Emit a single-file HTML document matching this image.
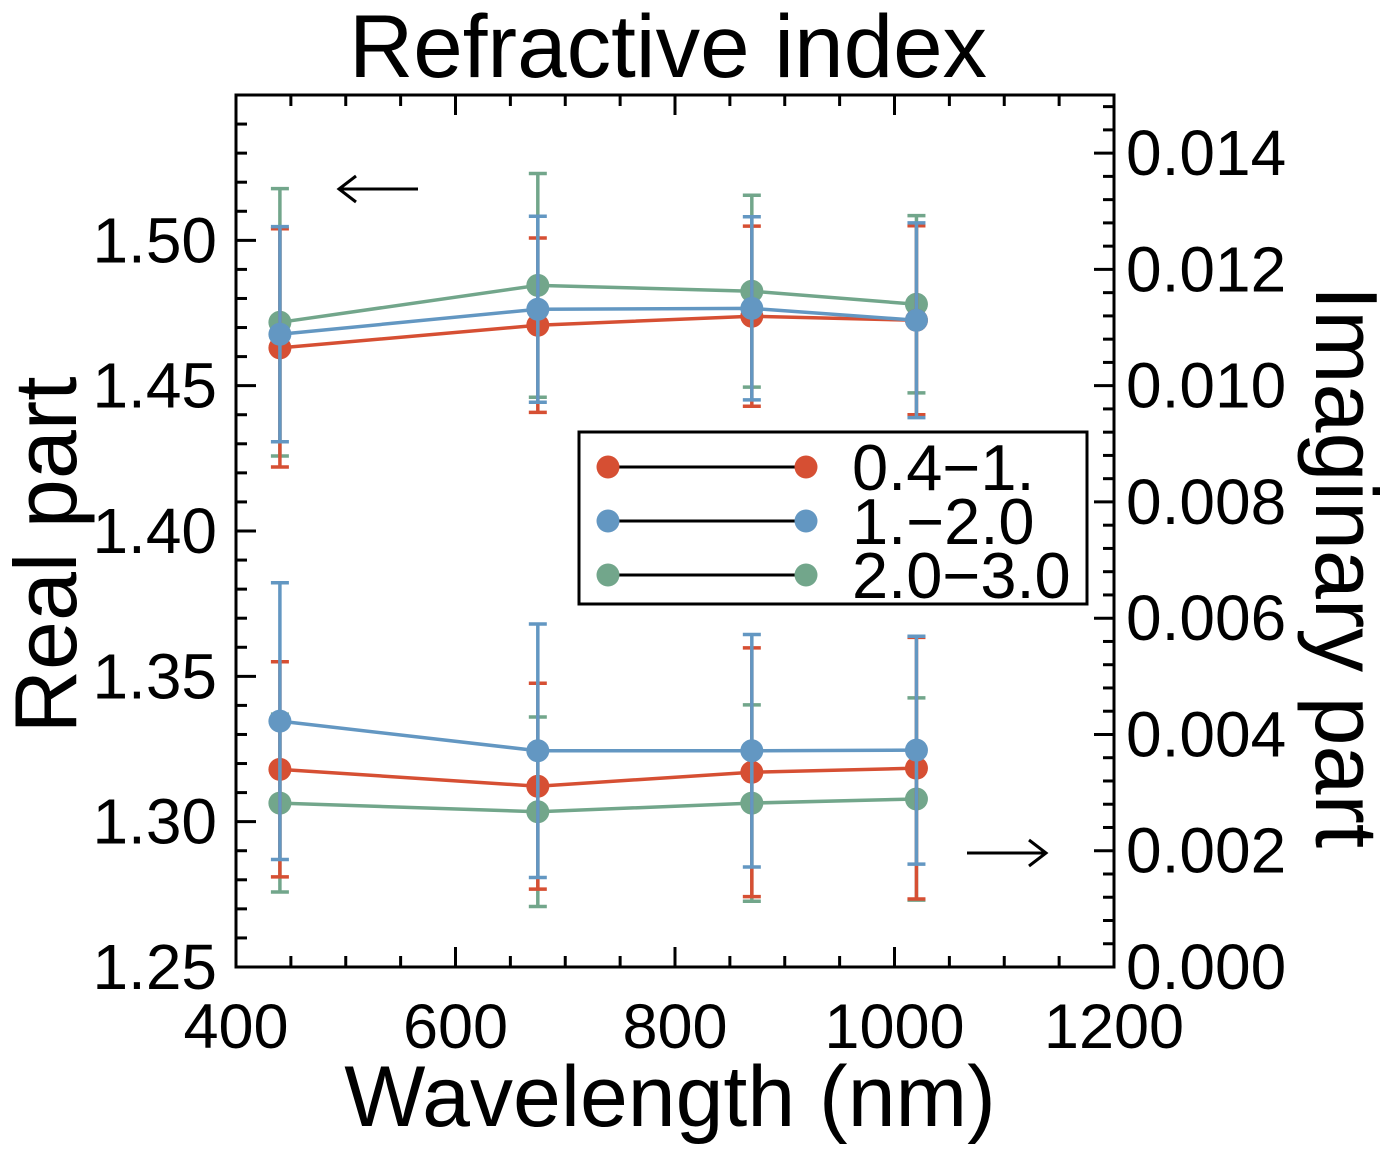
<!DOCTYPE html>
<html><head><meta charset="utf-8"><style>
html,body{margin:0;padding:0;background:#fff;width:1396px;height:1163px;overflow:hidden}
text{font-family:"Liberation Sans",sans-serif;fill:#000}
</style></head><body>
<svg id="chart" width="1396" height="1163" viewBox="0 0 1396 1163" xmlns="http://www.w3.org/2000/svg">
</svg>
<script>
const wavelengths=[440,675,870,1020];
const realRed=[1.463,1.4708,1.4739,1.4725];
const realBlue=[1.4677,1.4763,1.4766,1.4725];
const realGreen=[1.4718,1.4845,1.4825,1.478];
const realErrRed=[0.041,0.030,0.031,0.0325];
const realErrBlue=[0.037,0.032,0.0315,0.0335];
const realErrGreen=[0.046,0.0385,0.033,0.0305];
const imagRed=[0.00340,0.00311,0.00335,0.00342];
const imagBlue=[0.00423,0.00372,0.00372,0.00373];
const imagGreen=[0.00282,0.00267,0.00282,0.00289];
const imagErrRed=[0.00185,0.00177,0.00214,0.00225];
const imagErrBlue=[0.00238,0.00218,0.0020,0.00196];
const imagErrGreen=[0.00153,0.00163,0.00169,0.00174];
const xTicks=[400,600,800,1000,1200];
const yLeftTicks=[1.25,1.30,1.35,1.40,1.45,1.50];
const yRightTicks=[0.000,0.002,0.004,0.006,0.008,0.010,0.012,0.014];
const seriesNames=["0.4\u22121.","1.\u22122.0","2.0\u22123.0"];

const L=236,R=1114,T=95,B=967;
const xS=v=>L+(v-400)/800*(R-L);
const yL=v=>B-(v-1.25)/0.3*(B-T);
const yR=v=>B-(v)/0.015*(B-T);
const svg=document.getElementById('chart');
const NS="http://www.w3.org/2000/svg";
function mk(tag,attrs,parent){const e=document.createElementNS(NS,tag);for(const k in attrs)e.setAttribute(k,attrs[k]);(parent||svg).appendChild(e);return e;}

let t=mk('text',{x:668,y:77,'font-size':89,'text-anchor':'middle'});t.textContent='Refractive index';


t=mk('text',{x:670,y:1126,'font-size':86,'text-anchor':'middle'});t.textContent='Wavelength (nm)';


t=mk('text',{x:0,y:0,'font-size':88,'text-anchor':'middle',transform:'translate(76,555) rotate(-90)'});t.textContent='Real part';


t=mk('text',{x:0,y:0,'font-size':88,'text-anchor':'middle',transform:'translate(1316,567) rotate(90)'});t.textContent='Imaginary part';



for(let v=400;v<=1200;v+=50){const x=xS(v);const major=(v%200===0);
 mk('line',{x1:x,x2:x,y1:B,y2:B-(major?20:11),stroke:'#000','stroke-width':3});
 mk('line',{x1:x,x2:x,y1:T,y2:T+(major?20:11),stroke:'#000','stroke-width':3});}
xTicks.forEach(v=>{const e=mk('text',{x:xS(v),y:1048,'font-size':63,'text-anchor':'middle'});e.textContent=v;
 
 });
for(let i=0;i<=30;i++){const v=1.25+i*0.01;const y=yL(v);const major=(i%5===0);
 mk('line',{x1:L,x2:L+(major?20:11),y1:y,y2:y,stroke:'#000','stroke-width':3});}
yLeftTicks.forEach(v=>{const e=mk('text',{x:217,y:yL(v)+22,'font-size':64,'text-anchor':'end'});e.textContent=v.toFixed(2);
 
 });
for(let i=0;i<=37;i++){const v=i*0.0004;const y=yR(v);const major=(i%5===0);
 mk('line',{x1:R,x2:R-(major?20:11),y1:y,y2:y,stroke:'#000','stroke-width':3});}
yRightTicks.forEach(v=>{const e=mk('text',{x:1126,y:yR(v)+22,'font-size':64,'text-anchor':'start'});e.textContent=v.toFixed(3);
 
 });

const colors=['#d64f33','#6397c2','#72a68b'];
const groups=[
 {name:'green',c:colors[2],real:realGreen,re:realErrGreen,im:imagGreen,ie:imagErrGreen},
 {name:'red',c:colors[0],real:realRed,re:realErrRed,im:imagRed,ie:imagErrRed},
 {name:'blue',c:colors[1],real:realBlue,re:realErrBlue,im:imagBlue,ie:imagErrBlue}];
function drawSeries(vals,errs,ys,c,nm){
 const g=mk('g',{});
 
 
 vals.forEach((v,i)=>{const x=xS(wavelengths[i]);const y1=ys(v+errs[i]),y2=ys(v-errs[i]);
  mk('line',{x1:x,x2:x,y1:y1,y2:y2,stroke:c,'stroke-width':3.5},g);
  mk('line',{x1:x-9,x2:x+9,y1:y1,y2:y1,stroke:c,'stroke-width':3.5},g);
  mk('line',{x1:x-9,x2:x+9,y1:y2,y2:y2,stroke:c,'stroke-width':3.5},g);});
 mk('polyline',{points:vals.map((v,i)=>xS(wavelengths[i])+','+ys(v)).join(' '),fill:'none',stroke:c,'stroke-width':3.5},g);
 vals.forEach((v,i)=>{const p=mk('circle',{cx:xS(wavelengths[i]),cy:ys(v),r:11.5,fill:c},g);
  
  });
}
groups.forEach(g=>{drawSeries(g.real,g.re,yL,g.c,'real-'+g.name+'-series');drawSeries(g.im,g.ie,yR,g.c,'imag-'+g.name+'-series');});

mk('rect',{x:L,y:T,width:R-L,height:B-T,fill:'none',stroke:'#000','stroke-width':3});

let a=mk('path',{d:'M418 189 L339 189 M356 176 L339 189 L356 202',fill:'none',stroke:'#000','stroke-width':3});


a=mk('path',{d:'M967 853 L1046 853 M1029 840 L1046 853 L1029 866',fill:'none',stroke:'#000','stroke-width':3});



const lg=mk('g',{});


mk('rect',{x:579,y:432,width:508,height:172,fill:'#fff',stroke:'#000','stroke-width':3},lg);
seriesNames.forEach((n,i)=>{const y=467+i*54;
 const e=mk('g',{},lg);
 
 
 mk('line',{x1:608,x2:806,y1:y,y2:y,stroke:'#000','stroke-width':3},e);
 mk('circle',{cx:608,cy:y,r:11.5,fill:colors[i]},e);
 mk('circle',{cx:806,cy:y,r:11.5,fill:colors[i]},e);
 const tx=mk('text',{x:852,y:y+23,'font-size':65},e);tx.textContent=n;});
</script>
</body></html>
